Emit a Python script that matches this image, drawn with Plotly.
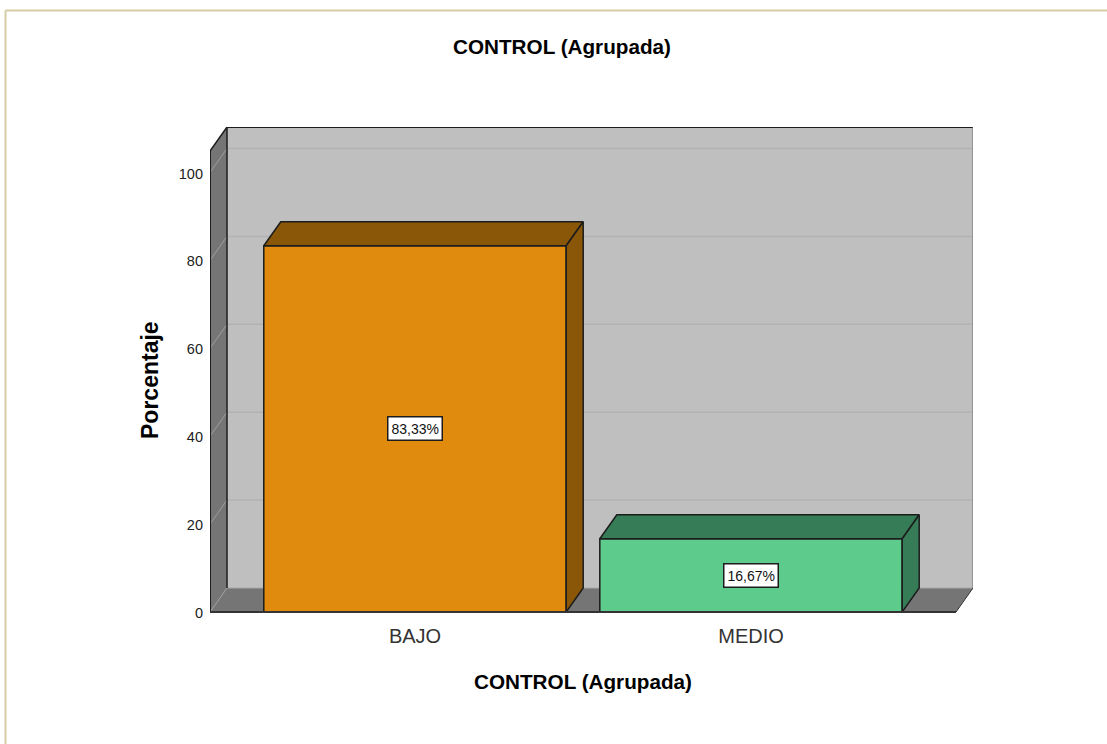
import plotly.graph_objects as go

# Chart values
categories = ["BAJO", "MEDIO"]
percentages = [83.33, 16.67]
y_ticks = [0, 20, 40, 60, 80, 100]
chart_title = "CONTROL (Agrupada)"
y_title = "Porcentaje"

# Styling
front_colors = ["#E08A0E", "#5DCB8C"]
shade_colors = ["#8A5607", "#367C56"]
WALL = "#BFBFBF"
SIDE = "#757575"
GRID_BACK = "#B2B2B2"
GRID_SIDE = "#9E9E9E"
EDGE = "#1C1C1C"
FONT = "Liberation Sans"

# Pseudo-3D depth expressed in axis units
DEPTH_X = 17 / 336
DEPTH_Y = 24 / 4.395
BAR_WIDTH = 0.9
X_MIN, X_MAX = -0.6101, 1.6607
Y_MAX = 110.35
WALL_TOP = Y_MAX - DEPTH_Y
FRONT_RIGHT = X_MAX - DEPTH_X

W, H = 1107, 744
M_L, M_R, M_T, M_B = 210, 134, 127, 132


def paper_x(px):
    return (px - M_L) / (W - M_L - M_R)


def paper_y(px):
    return 1 - (px - M_T) / (H - M_T - M_B)


def polygon(xs, ys, fill, line_color=None, width=0):
    path = "M " + " L ".join(f"{x} {y}" for x, y in zip(xs, ys)) + " Z"
    return dict(type="path", path=path, xref="x", yref="y", layer="below",
                fillcolor=fill, line=dict(color=line_color or fill, width=width))


def segment(x0, y0, x1, y1, color, width=1):
    return dict(type="line", x0=x0, y0=y0, x1=x1, y1=y1, xref="x", yref="y",
                layer="below", line=dict(color=color, width=width))


shapes = [
    # Back wall, side wall and floor
    polygon([X_MIN + DEPTH_X, X_MAX, X_MAX, X_MIN + DEPTH_X],
            [DEPTH_Y, DEPTH_Y, Y_MAX, Y_MAX], WALL),
    polygon([X_MIN, X_MIN + DEPTH_X, X_MIN + DEPTH_X, X_MIN],
            [0, DEPTH_Y, Y_MAX, WALL_TOP], SIDE),
    polygon([X_MIN, FRONT_RIGHT, X_MAX, X_MIN + DEPTH_X],
            [0, 0, DEPTH_Y, DEPTH_Y], SIDE),
]

# Gridlines run along the back wall and fold down the side wall
for tick in y_ticks[1:]:
    shapes.append(segment(X_MIN + DEPTH_X, tick + DEPTH_Y, X_MAX, tick + DEPTH_Y, GRID_BACK, 1.5))
    shapes.append(segment(X_MIN, tick, X_MIN + DEPTH_X, tick + DEPTH_Y, GRID_SIDE, 1))

shapes += [
    segment(X_MIN, 0, X_MIN + DEPTH_X, DEPTH_Y, GRID_SIDE, 1),
    segment(X_MIN + DEPTH_X, DEPTH_Y, X_MAX, DEPTH_Y, "#A8A8A8", 1),
    segment(X_MIN + DEPTH_X, DEPTH_Y, X_MIN + DEPTH_X, Y_MAX, EDGE, 1.5),
    segment(X_MIN + DEPTH_X, Y_MAX, X_MAX, Y_MAX, EDGE, 2),
    segment(X_MIN, 0, X_MIN, WALL_TOP, EDGE, 2),
    segment(X_MIN, WALL_TOP, X_MIN + DEPTH_X, Y_MAX, EDGE, 1.5),
    segment(X_MAX, DEPTH_Y, X_MAX, Y_MAX, "#6A6A6A", 1),
    segment(FRONT_RIGHT, 0, X_MAX, DEPTH_Y, "#333333", 1),
]

# Thin tan frame along the top and left of the page
for x0, y0, x1, y1 in [(5.5, 10.5, W, 10.5), (5.5, 10.5, 5.5, H)]:
    shapes.append(dict(type="line", xref="paper", yref="paper",
                       x0=paper_x(x0), y0=paper_y(y0), x1=paper_x(x1), y1=paper_y(y1),
                       line=dict(color="#D3CCA4", width=2), layer="below"))

# Floor front edge sits above the bars so it stays visible at the baseline
shapes.append(dict(type="line", xref="paper", yref="paper",
                   x0=0, y0=0, x1=paper_x(956), y1=0,
                   line=dict(color="#333333", width=2), layer="above"))

fig = go.Figure()

positions = list(range(len(categories)))

# Front faces
fig.add_trace(go.Bar(
    x=positions, y=percentages, width=BAR_WIDTH,
    marker=dict(color=front_colors, line=dict(color=EDGE, width=1.5)),
    showlegend=False, hoverinfo="x+y", cliponaxis=False,
))

# Top and side faces, derived from each bar's value
for pos, value, shade in zip(positions, percentages, shade_colors):
    left = pos - BAR_WIDTH / 2
    right = pos + BAR_WIDTH / 2
    fig.add_trace(go.Scatter(
        x=[left, left + DEPTH_X, right + DEPTH_X, right, left],
        y=[value, value + DEPTH_Y, value + DEPTH_Y, value, value],
        mode="lines", fill="toself", fillcolor=shade,
        line=dict(color=EDGE, width=1.5), showlegend=False, hoverinfo="skip",
    ))
    fig.add_trace(go.Scatter(
        x=[right, right + DEPTH_X, right + DEPTH_X, right, right],
        y=[0, DEPTH_Y, value + DEPTH_Y, value, 0],
        mode="lines", fill="toself", fillcolor=shade,
        line=dict(color=EDGE, width=1.5), showlegend=False, hoverinfo="skip",
    ))

annotations = [
    dict(x=pos, y=value / 2, xref="x", yref="y", showarrow=False,
         text=f"{value:.2f}%".replace(".", ","),
         font=dict(family=FONT, size=14, color="#111111"),
         bgcolor="white", bordercolor=EDGE, borderwidth=1.5, borderpad=3)
    for pos, value in zip(positions, percentages)
]
centered = dict(xref="paper", yref="paper", showarrow=False, xanchor="center", yanchor="middle")
annotations += [
    dict(x=paper_x(561.5), y=paper_y(47), text=f"<b>{chart_title}</b>",
         font=dict(family=FONT, size=20.7, color="black"), **centered),
    dict(x=paper_x(583), y=paper_y(681), text=f"<b>{chart_title}</b>",
         font=dict(family=FONT, size=20.7, color="black"), **centered),
    dict(x=paper_x(150), y=paper_y(380), text=f"<b>{y_title}</b>", textangle=-90,
         font=dict(family=FONT, size=23, color="black"), **centered),
]

fig.update_layout(
    width=W, height=H,
    margin=dict(l=M_L, r=M_R, t=M_T, b=M_B, pad=0),
    paper_bgcolor="white", plot_bgcolor="rgba(0,0,0,0)",
    font=dict(family=FONT, color="#222222"),
    shapes=shapes, annotations=annotations, showlegend=False,
    xaxis=dict(range=[X_MIN, X_MAX], tickmode="array", tickvals=positions,
               ticktext=categories, tickfont=dict(size=20, color="#333333"),
               showgrid=False, zeroline=False, showline=False, ticks="",
               ticklabelstandoff=10, fixedrange=True),
    yaxis=dict(range=[0, Y_MAX], tickmode="array", tickvals=y_ticks,
               tickfont=dict(size=14.5, color="#222222"),
               showgrid=False, zeroline=False, showline=False, ticks="",
               ticklabelstandoff=6, ticklabelshift=1, fixedrange=True),
)

fig.write_html("out.html", config=dict(displayModeBar=False))
